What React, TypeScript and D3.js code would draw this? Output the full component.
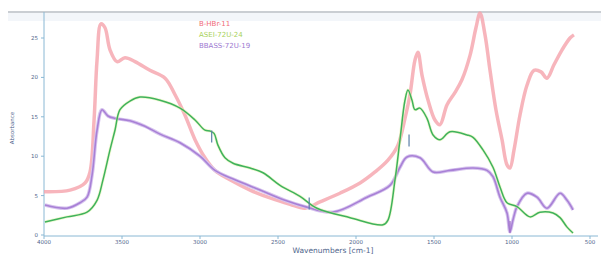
import React from "react";
import * as d3 from "d3";

// wavenumber (cm-1) / absorbance pairs
const redWave = [4000, 3833, 3737, 3705, 3679, 3660, 3635, 3609, 3577, 3532, 3481, 3417, 3321, 3224, 3160, 3096, 3032, 2968, 2904, 2808, 2679, 2551, 2423, 2327, 2231, 2103, 1974, 1878, 1795, 1731, 1686, 1654, 1622, 1603, 1577, 1538, 1494, 1462, 1417, 1365, 1321, 1269, 1231, 1205, 1173, 1141, 1103, 1064, 1032, 1013, 987, 949, 904, 859, 814, 776, 731, 679, 628, 603];
const redAbs = [5.5, 5.7, 6.6, 8.0, 14.6, 22.2, 26.8, 26.3, 23.5, 22.0, 22.5, 22.0, 20.9, 19.9, 17.8, 15.2, 12.1, 9.8, 8.2, 7.0, 5.7, 4.7, 3.9, 3.4, 4.2, 5.3, 6.6, 8.0, 9.5, 11.4, 14.8, 17.8, 22.2, 23.2, 20.3, 17.1, 14.6, 14.0, 16.5, 18.1, 19.7, 22.8, 26.3, 28.3, 25.4, 20.9, 15.9, 12.1, 8.9, 8.5, 10.8, 15.2, 19.0, 20.9, 20.7, 19.9, 21.6, 23.5, 25.0, 25.4];

const greenWave = [3994, 3853, 3724, 3660, 3622, 3577, 3545, 3513, 3449, 3385, 3256, 3128, 3032, 2968, 2936, 2910, 2885, 2840, 2788, 2679, 2596, 2487, 2359, 2250, 2038, 1827, 1795, 1750, 1718, 1686, 1667, 1641, 1622, 1590, 1545, 1506, 1462, 1397, 1288, 1250, 1186, 1122, 1077, 1032, 968, 885, 821, 737, 692, 647, 609];
const greenAbs = [1.65, 2.3, 2.9, 4.4, 7.0, 10.8, 13.3, 15.9, 17.0, 17.5, 17.1, 16.1, 14.6, 13.3, 13.2, 12.9, 11.4, 9.8, 9.1, 8.5, 7.9, 6.3, 4.9, 3.4, 2.2, 1.3, 1.9, 7.0, 12.1, 17.1, 18.4, 17.1, 15.9, 16.1, 14.8, 12.7, 12.1, 13.1, 12.7, 12.4, 10.8, 8.6, 6.1, 4.1, 3.6, 2.3, 2.9, 2.8, 2.2, 1.0, 0.25];

const purpleWave = [3994, 3853, 3769, 3724, 3692, 3660, 3628, 3590, 3545, 3449, 3353, 3256, 3128, 3000, 2904, 2776, 2615, 2455, 2327, 2147, 1929, 1782, 1718, 1673, 1590, 1506, 1397, 1250, 1160, 1122, 1077, 1032, 1013, 994, 968, 904, 840, 776, 692, 647, 609];
const purpleAbs = [3.8, 3.4, 4.1, 4.8, 7.6, 13.3, 15.9, 15.1, 14.8, 14.5, 13.8, 12.8, 11.7, 10.0, 8.2, 7.0, 5.7, 4.4, 3.6, 2.9, 4.8, 6.3, 8.6, 9.9, 9.8, 8.0, 8.2, 8.5, 8.2, 7.4, 4.8, 2.8, 0.4, 1.9, 3.6, 5.3, 4.8, 3.4, 5.3, 4.4, 3.2];

const seriesNames = ["B-HBr-11", "ASEI-72U-24", "BBASS-72U-19"];
const xTicks = [4000, 3500, 3000, 2500, 2000, 1500, 1000, 500];
const yTicks = [0, 5, 10, 15, 20, 25];
// small peak markers
const markerWave = [2925, 2300, 1660, 1013];
const markerAbs = [12.5, 4.0, 12.0, 1.0];

export default function App() {
  const width = 601;
  const height = 256;
  const left = 44;
  const right = 590;
  const top = 12;
  const bottom = 236;

  const x = d3.scaleLinear().domain([4000, 500]).range([left, right]);
  const y = d3.scaleLinear().domain([0, 25]).range([235, 38]);

  const mk = (w: number[], a: number[]) =>
    d3
      .line<number>()
      .x((_, i) => x(w[i]))
      .y((_, i) => Math.max(top + 1, y(a[i])))
      .curve(d3.curveCatmullRom.alpha(0.5))(a.map((_, i) => i)) || "";

  const redPath = mk(redWave, redAbs);
  const greenPath = mk(greenWave, greenAbs);
  const purplePath = mk(purpleWave, purpleAbs);

  const red = "#f5a3ab";
  const green = "#3fb25c";
  const purple = "#a880d6";
  const tickColor = "#50658c";
  const axisColor = "#8ab8d4";
  const legendColors = ["#f06a78", "#a8d25a", "#9c78d0"];

  return (
    <svg
      width={width}
      height={height}
      style={{ position: "absolute", left: 0, top: 0, background: "#fff" }}
      fontFamily="DejaVu Sans, sans-serif"
    >
      {/* top frame */}
      <rect x={8} y={13} width={593} height={8} fill="#f3f6fa" />
      <line x1={8} x2={601} y1={12} y2={12} stroke="#b9bec4" strokeWidth={1.5} />

      {/* axes */}
      <line x1={left} x2={left} y1={top} y2={bottom} stroke={axisColor} strokeWidth={1} />
      <line x1={left} x2={right + 8} y1={bottom} y2={bottom} stroke={axisColor} strokeWidth={1} />

      {yTicks.map((t) => (
        <g key={t}>
          <line x1={left - 3} x2={left} y1={y(t)} y2={y(t)} stroke={axisColor} />
          <text x={left - 6} y={y(t) + 2} fontSize={5.5} fill={tickColor} textAnchor="end">
            {t}
          </text>
        </g>
      ))}
      {xTicks.map((t) => (
        <g key={t}>
          <line x1={x(t)} x2={x(t)} y1={bottom} y2={bottom + 3} stroke={axisColor} />
          <text x={x(t)} y={bottom + 8} fontSize={5.5} fill={tickColor} textAnchor="middle">
            {t}
          </text>
        </g>
      ))}

      <text
        transform={`translate(14,${(top + bottom) / 2 + 4}) rotate(-90)`}
        fontSize={5.5}
        fill={tickColor}
        textAnchor="middle"
      >
        Absorbance
      </text>
      <text x={333} y={253} fontSize={7.5} fill={tickColor} textAnchor="middle">
        Wavenumbers [cm-1]
      </text>

      {/* spectra */}
      <path d={redPath} fill="none" stroke={red} strokeWidth={3.5} strokeOpacity={0.8} strokeLinejoin="round" />
      <path d={purplePath} fill="none" stroke="#d7c4ee" strokeWidth={3.5} strokeLinejoin="round" />
      <path d={purplePath} fill="none" stroke={purple} strokeWidth={1.6} strokeLinejoin="round" />
      <path d={greenPath} fill="none" stroke="#e4f4b0" strokeWidth={3} strokeOpacity={0.6} strokeLinejoin="round" />
      <path d={greenPath} fill="none" stroke={green} strokeWidth={1.5} strokeLinejoin="round" />

      {markerWave.map((w, i) => (
        <line
          key={w}
          x1={x(w)}
          x2={x(w)}
          y1={y(markerAbs[i]) - 6}
          y2={y(markerAbs[i]) + 6}
          stroke={i === 3 ? "#a070c8" : "#5a7fa8"}
          strokeWidth={1.2}
        />
      ))}

      {/* legend */}
      {seriesNames.map((n, i) => (
        <text key={n} x={199} y={26 + i * 11} fontSize={7} fill={legendColors[i]}>
          {n}
        </text>
      ))}
    </svg>
  );
}
